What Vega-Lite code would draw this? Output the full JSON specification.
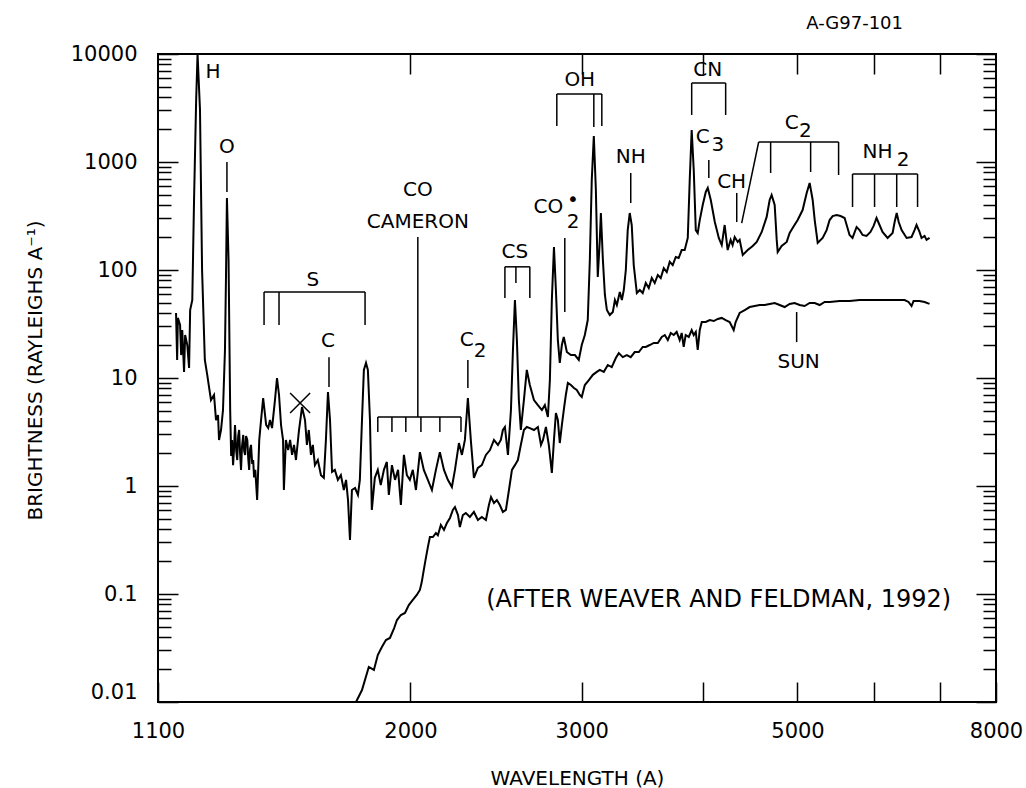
{
  "$schema": "https://vega.github.io/schema/vega-lite/v6.json",
  "autosize": {"type": "none"},
  "padding": {"left": 158, "top": 54, "right": 30, "bottom": 86},
  "width": 838,
  "height": 648,
  "background": "white",
  "title": {"text": "A-G97-101", "anchor": "end", "frame": "group", "dx": -93, "offset": -8, "baseline": "bottom", "fontSize": 18, "fontWeight": "normal", "font": "DejaVu Sans", "color": "black"},
  "config": {
    "font": "DejaVu Sans",
    "view": {"stroke": "black", "strokeWidth": 2},
    "axis": {"grid": false, "domain": false, "labelFont": "DejaVu Sans", "labelFontSize": 21, "labelColor": "black", "tickColor": "black", "tickWidth": 1.5, "titleFont": "DejaVu Sans", "titleFontSize": 20, "titleFontWeight": "normal", "titleColor": "black"}
  },
  "datasets": {
    "comet": [
      {"wl":1148,"b":40.0},{"wl":1151,"b":14.7},{"wl":1153,"b":36.0},{"wl":1159,"b":31.0},{"wl":1162,"b":16.3},{"wl":1165,"b":27.8},{"wl":1170,"b":11.4},{"wl":1173,"b":25.0},{"wl":1179,"b":20.2},{"wl":1184,"b":12.4},{"wl":1187,"b":42.6},{"wl":1193,"b":52.7},{"wl":1198,"b":445},{"wl":1204,"b":3750},{"wl":1208,"b":10000},{"wl":1215,"b":3030},{"wl":1221,"b":100},{"wl":1229,"b":14.7},{"wl":1236,"b":10.7},{"wl":1247,"b":6.25},{"wl":1256,"b":6.96},{"wl":1262,"b":4.08},{"wl":1268,"b":4.54},{"wl":1271,"b":2.67},{"wl":1277,"b":3.30},{"wl":1283,"b":5.05},{"wl":1289,"b":18.2},{"wl":1292,"b":80.8},{"wl":1295,"b":464},{"wl":1300,"b":124},{"wl":1305,"b":5.05},{"wl":1308,"b":1.9},{"wl":1311,"b":2.67},{"wl":1314,"b":1.56},{"wl":1317,"b":2.2},{"wl":1320,"b":3.67},{"wl":1324,"b":2.1},{"wl":1327,"b":1.74},{"wl":1330,"b":2.9},{"wl":1333,"b":3.30},{"wl":1336,"b":2.0},{"wl":1339,"b":1.41},{"wl":1342,"b":2.3},{"wl":1346,"b":2.97},{"wl":1349,"b":2.1},{"wl":1352,"b":1.94},{"wl":1355,"b":2.9},{"wl":1359,"b":2.67},{"wl":1362,"b":1.8},{"wl":1365,"b":1.41},{"wl":1368,"b":2.2},{"wl":1371,"b":2.40},{"wl":1375,"b":1.6},{"wl":1378,"b":1.74},{"wl":1381,"b":1.2},{"wl":1385,"b":1.41},{"wl":1391,"b":0.741},{"wl":1398,"b":2.67},{"wl":1404,"b":4.08},{"wl":1411,"b":6.53},{"wl":1421,"b":3.67},{"wl":1428,"b":3.44},{"wl":1434,"b":4.08},{"wl":1441,"b":3.44},{"wl":1451,"b":6.25},{"wl":1458,"b":10.0},{"wl":1465,"b":6.96},{"wl":1472,"b":3.67},{"wl":1479,"b":2.67},{"wl":1482,"b":0.918},{"wl":1489,"b":2.67},{"wl":1497,"b":2.15},{"wl":1504,"b":2.67},{"wl":1511,"b":1.94},{"wl":1518,"b":2.40},{"wl":1525,"b":1.74},{"wl":1536,"b":3.30},{"wl":1547,"b":5.38},{"wl":1558,"b":4.08},{"wl":1565,"b":2.40},{"wl":1572,"b":3.30},{"wl":1580,"b":1.94},{"wl":1587,"b":2.40},{"wl":1595,"b":1.56},{"wl":1606,"b":1.74},{"wl":1618,"b":1.26},{"wl":1629,"b":1.19},{"wl":1637,"b":2.67},{"wl":1645,"b":7.41},{"wl":1653,"b":4.08},{"wl":1661,"b":1.35},{"wl":1672,"b":1.41},{"wl":1684,"b":1.14},{"wl":1696,"b":1.26},{"wl":1708,"b":0.918},{"wl":1717,"b":1.14},{"wl":1725,"b":0.741},{"wl":1733,"b":0.316},{"wl":1741,"b":0.918},{"wl":1754,"b":0.958},{"wl":1766,"b":0.826},{"wl":1774,"b":1.14},{"wl":1783,"b":4.08},{"wl":1791,"b":11.9},{"wl":1800,"b":13.8},{"wl":1808,"b":11.9},{"wl":1817,"b":4.08},{"wl":1825,"b":0.600},{"wl":1838,"b":1.19},{"wl":1851,"b":1.41},{"wl":1864,"b":1.02},{"wl":1878,"b":1.41},{"wl":1891,"b":1.67},{"wl":1900,"b":0.826},{"wl":1914,"b":1.56},{"wl":1928,"b":1.14},{"wl":1942,"b":1.41},{"wl":1955,"b":0.667},{"wl":1969,"b":1.94},{"wl":1983,"b":1.26},{"wl":1997,"b":1.14},{"wl":2011,"b":1.41},{"wl":2026,"b":0.918},{"wl":2045,"b":2.06},{"wl":2064,"b":1.41},{"wl":2084,"b":1.14},{"wl":2104,"b":0.918},{"wl":2124,"b":1.41},{"wl":2144,"b":2.06},{"wl":2165,"b":1.41},{"wl":2185,"b":1.14},{"wl":2206,"b":0.979},{"wl":2222,"b":1.41},{"wl":2243,"b":2.50},{"wl":2259,"b":1.94},{"wl":2275,"b":2.67},{"wl":2291,"b":6.53},{"wl":2307,"b":2.67},{"wl":2324,"b":1.19},{"wl":2346,"b":1.47},{"wl":2368,"b":1.56},{"wl":2391,"b":1.94},{"wl":2414,"b":2.15},{"wl":2437,"b":2.67},{"wl":2460,"b":2.40},{"wl":2477,"b":2.67},{"wl":2489,"b":3.30},{"wl":2501,"b":3.52},{"wl":2519,"b":1.94},{"wl":2537,"b":5.05},{"wl":2549,"b":18.2},{"wl":2561,"b":52.7},{"wl":2573,"b":22.5},{"wl":2585,"b":6.25},{"wl":2597,"b":3.30},{"wl":2616,"b":6.25},{"wl":2634,"b":11.9},{"wl":2653,"b":8.61},{"wl":2679,"b":6.25},{"wl":2704,"b":5.62},{"wl":2730,"b":5.05},{"wl":2749,"b":5.62},{"wl":2769,"b":4.35},{"wl":2782,"b":9.58},{"wl":2795,"b":52.7},{"wl":2809,"b":163},{"wl":2822,"b":65.3},{"wl":2835,"b":22.5},{"wl":2848,"b":13.8},{"wl":2862,"b":20.2},{"wl":2875,"b":24.0},{"wl":2896,"b":17.4},{"wl":2924,"b":16.3},{"wl":2952,"b":16.3},{"wl":2979,"b":14.7},{"wl":3000,"b":20.2},{"wl":3022,"b":25.0},{"wl":3043,"b":34.4},{"wl":3058,"b":124},{"wl":3072,"b":681},{"wl":3087,"b":1740},{"wl":3102,"b":550},{"wl":3116,"b":86.1},{"wl":3131,"b":190},{"wl":3139,"b":337},{"wl":3154,"b":124},{"wl":3169,"b":58.7},{"wl":3184,"b":42.6},{"wl":3206,"b":38.3},{"wl":3229,"b":40.8},{"wl":3245,"b":52.7},{"wl":3260,"b":47.4},{"wl":3283,"b":62.5},{"wl":3299,"b":52.7},{"wl":3314,"b":65.3},{"wl":3330,"b":100},{"wl":3345,"b":234},{"wl":3361,"b":337},{"wl":3377,"b":261},{"wl":3393,"b":111},{"wl":3418,"b":61.2},{"wl":3442,"b":65.3},{"wl":3466,"b":61.2},{"wl":3491,"b":75.8},{"wl":3516,"b":68.1},{"wl":3541,"b":84.3},{"wl":3566,"b":75.8},{"wl":3592,"b":89.9},{"wl":3617,"b":84.3},{"wl":3643,"b":104},{"wl":3669,"b":95.8},{"wl":3695,"b":119},{"wl":3721,"b":111},{"wl":3748,"b":132},{"wl":3774,"b":129},{"wl":3801,"b":153},{"wl":3828,"b":153},{"wl":3856,"b":198},{"wl":3874,"b":681},{"wl":3892,"b":1980},{"wl":3911,"b":843},{"wl":3930,"b":234},{"wl":3948,"b":220},{"wl":3967,"b":290},{"wl":3995,"b":400},{"wl":4024,"b":528},{"wl":4043,"b":575},{"wl":4072,"b":445},{"wl":4111,"b":278},{"wl":4150,"b":198},{"wl":4179,"b":170},{"wl":4208,"b":261},{"wl":4238,"b":153},{"wl":4268,"b":190},{"wl":4288,"b":170},{"wl":4309,"b":202},{"wl":4340,"b":182},{"wl":4360,"b":190},{"wl":4392,"b":138},{"wl":4444,"b":153},{"wl":4497,"b":167},{"wl":4540,"b":182},{"wl":4594,"b":225},{"wl":4648,"b":310},{"wl":4681,"b":445},{"wl":4703,"b":495},{"wl":4737,"b":400},{"wl":4760,"b":190},{"wl":4771,"b":147},{"wl":4816,"b":167},{"wl":4874,"b":182},{"wl":4908,"b":220},{"wl":4943,"b":245},{"wl":5002,"b":290},{"wl":5061,"b":359},{"wl":5110,"b":517},{"wl":5146,"b":639},{"wl":5183,"b":445},{"wl":5208,"b":290},{"wl":5245,"b":178},{"wl":5307,"b":198},{"wl":5357,"b":234},{"wl":5395,"b":290},{"wl":5434,"b":316},{"wl":5485,"b":323},{"wl":5537,"b":316},{"wl":5590,"b":303},{"wl":5629,"b":245},{"wl":5656,"b":211},{"wl":5696,"b":198},{"wl":5751,"b":250},{"wl":5792,"b":234},{"wl":5833,"b":211},{"wl":5888,"b":207},{"wl":5943,"b":225},{"wl":5986,"b":255},{"wl":6029,"b":303},{"wl":6072,"b":261},{"wl":6115,"b":225},{"wl":6189,"b":198},{"wl":6263,"b":220},{"wl":6293,"b":278},{"wl":6324,"b":337},{"wl":6354,"b":278},{"wl":6398,"b":234},{"wl":6474,"b":198},{"wl":6550,"b":202},{"wl":6597,"b":234},{"wl":6628,"b":261},{"wl":6675,"b":225},{"wl":6707,"b":198},{"wl":6755,"b":207},{"wl":6787,"b":190},{"wl":6835,"b":198}
    ],
    "sun": [
      {"wl":1758,"b":0.0100},{"wl":1783,"b":0.0129},{"wl":1812,"b":0.0211},{"wl":1834,"b":0.0198},{"wl":1851,"b":0.0272},{"wl":1869,"b":0.0323},{"wl":1887,"b":0.0375},{"wl":1905,"b":0.0392},{"wl":1924,"b":0.0484},{"wl":1937,"b":0.0574},{"wl":1955,"b":0.0639},{"wl":1974,"b":0.0667},{"wl":1992,"b":0.079},{"wl":2011,"b":0.088},{"wl":2030,"b":0.098},{"wl":2045,"b":0.109},{"wl":2054,"b":0.129},{"wl":2064,"b":0.167},{"wl":2074,"b":0.215},{"wl":2084,"b":0.272},{"wl":2094,"b":0.337},{"wl":2109,"b":0.337},{"wl":2124,"b":0.367},{"wl":2134,"b":0.35},{"wl":2149,"b":0.436},{"wl":2165,"b":0.392},{"wl":2180,"b":0.454},{"wl":2196,"b":0.506},{"wl":2211,"b":0.600},{"wl":2222,"b":0.639},{"wl":2238,"b":0.538},{"wl":2248,"b":0.417},{"wl":2264,"b":0.538},{"wl":2280,"b":0.562},{"wl":2302,"b":0.517},{"wl":2324,"b":0.575},{"wl":2346,"b":0.484},{"wl":2368,"b":0.517},{"wl":2391,"b":0.484},{"wl":2408,"b":0.667},{"wl":2420,"b":0.791},{"wl":2437,"b":0.696},{"wl":2454,"b":0.741},{"wl":2471,"b":0.667},{"wl":2489,"b":0.575},{"wl":2507,"b":0.600},{"wl":2525,"b":0.918},{"wl":2543,"b":1.41},{"wl":2561,"b":1.56},{"wl":2579,"b":1.74},{"wl":2597,"b":2.40},{"wl":2616,"b":3.30},{"wl":2634,"b":3.52},{"wl":2653,"b":3.44},{"wl":2679,"b":3.30},{"wl":2704,"b":3.52},{"wl":2724,"b":2.40},{"wl":2737,"b":2.67},{"wl":2756,"b":3.52},{"wl":2775,"b":2.40},{"wl":2795,"b":1.32},{"wl":2809,"b":2.67},{"wl":2822,"b":4.74},{"wl":2835,"b":4.08},{"wl":2848,"b":2.50},{"wl":2862,"b":3.67},{"wl":2875,"b":5.05},{"wl":2889,"b":6.96},{"wl":2903,"b":8.99},{"wl":2924,"b":8.61},{"wl":2945,"b":8.08},{"wl":2965,"b":7.74},{"wl":2986,"b":6.96},{"wl":3000,"b":6.67},{"wl":3022,"b":8.61},{"wl":3051,"b":9.58},{"wl":3080,"b":10.7},{"wl":3109,"b":11.4},{"wl":3131,"b":11.9},{"wl":3161,"b":11.4},{"wl":3191,"b":13.2},{"wl":3221,"b":12.6},{"wl":3252,"b":15.3},{"wl":3275,"b":17.0},{"wl":3306,"b":15.6},{"wl":3338,"b":16.3},{"wl":3369,"b":15.6},{"wl":3401,"b":17.4},{"wl":3434,"b":17.4},{"wl":3466,"b":19.4},{"wl":3491,"b":19.4},{"wl":3524,"b":20.2},{"wl":3558,"b":21.1},{"wl":3592,"b":21.1},{"wl":3626,"b":24.0},{"wl":3652,"b":25.0},{"wl":3678,"b":22.5},{"wl":3704,"b":26.1},{"wl":3730,"b":25.0},{"wl":3756,"b":26.7},{"wl":3783,"b":22.5},{"wl":3801,"b":26.1},{"wl":3819,"b":19.4},{"wl":3837,"b":25.0},{"wl":3865,"b":24.0},{"wl":3892,"b":27.8},{"wl":3911,"b":25.0},{"wl":3930,"b":26.7},{"wl":3948,"b":18.2},{"wl":3967,"b":27.8},{"wl":3986,"b":33.0},{"wl":4024,"b":33.0},{"wl":4062,"b":34.4},{"wl":4101,"b":33.7},{"wl":4140,"b":35.2},{"wl":4179,"b":36.0},{"wl":4218,"b":34.4},{"wl":4258,"b":33.0},{"wl":4299,"b":27.8},{"wl":4319,"b":33.0},{"wl":4360,"b":40.0},{"wl":4413,"b":42.6},{"wl":4465,"b":45.4},{"wl":4518,"b":46.4},{"wl":4572,"b":47.4},{"wl":4626,"b":47.4},{"wl":4681,"b":48.5},{"wl":4737,"b":49.5},{"wl":4793,"b":47.4},{"wl":4850,"b":45.4},{"wl":4908,"b":48.5},{"wl":4966,"b":49.5},{"wl":5025,"b":47.4},{"wl":5085,"b":46.4},{"wl":5146,"b":49.5},{"wl":5208,"b":49.5},{"wl":5269,"b":47.4},{"wl":5332,"b":50.6},{"wl":5395,"b":50.6},{"wl":5524,"b":51.6},{"wl":5656,"b":51.6},{"wl":5792,"b":52.7},{"wl":5930,"b":52.7},{"wl":6072,"b":52.7},{"wl":6218,"b":52.7},{"wl":6367,"b":52.7},{"wl":6443,"b":52.7},{"wl":6504,"b":50.6},{"wl":6550,"b":46.4},{"wl":6581,"b":51.6},{"wl":6675,"b":51.6},{"wl":6755,"b":50.6},{"wl":6835,"b":48.5}
    ],
    "rules": [
      {"wl":1295,"b":1000,"wl2":1295,"b2":528},
      {"wl":1414,"b":62.5,"wl2":1796,"b2":62.5},
      {"wl":1414,"b":62.5,"wl2":1414,"b2":31},
      {"wl":1465,"b":62.5,"wl2":1465,"b2":31},
      {"wl":1796,"b":62.5,"wl2":1796,"b2":31},
      {"wl":1649,"b":15.6,"wl2":1649,"b2":8.25},
      {"wl":2035,"b":202,"wl2":2035,"b2":4.35},
      {"wl":1851,"b":4.35,"wl2":2254,"b2":4.35},
      {"wl":1851,"b":4.35,"wl2":1851,"b2":3.16},
      {"wl":1914,"b":4.35,"wl2":1914,"b2":3.16},
      {"wl":1978,"b":4.35,"wl2":1978,"b2":3.16},
      {"wl":2050,"b":4.35,"wl2":2050,"b2":3.16},
      {"wl":2144,"b":4.35,"wl2":2144,"b2":3.16},
      {"wl":2254,"b":4.35,"wl2":2254,"b2":3.16},
      {"wl":2291,"b":14.7,"wl2":2291,"b2":8.08},
      {"wl":2501,"b":107,"wl2":2653,"b2":107},
      {"wl":2501,"b":107,"wl2":2501,"b2":55.1},
      {"wl":2653,"b":107,"wl2":2653,"b2":55.1},
      {"wl":2567,"b":107,"wl2":2567,"b2":75.8},
      {"wl":2882,"b":198,"wl2":2882,"b2":40.8},
      {"wl":2828,"b":4264,"wl2":3146,"b2":4264},
      {"wl":2828,"b":4264,"wl2":2828,"b2":2154},
      {"wl":3146,"b":4264,"wl2":3146,"b2":2154},
      {"wl":3087,"b":4264,"wl2":3087,"b2":2109},
      {"wl":3369,"b":791,"wl2":3369,"b2":417},
      {"wl":3892,"b":5390,"wl2":4218,"b2":5390},
      {"wl":3892,"b":5390,"wl2":3892,"b2":2725},
      {"wl":4218,"b":5390,"wl2":4218,"b2":2725},
      {"wl":4053,"b":1043,"wl2":4053,"b2":711},
      {"wl":4330,"b":517,"wl2":4330,"b2":278},
      {"wl":4381,"b":272,"wl2":4561,"b2":1531},
      {"wl":4561,"b":1531,"wl2":5511,"b2":1531},
      {"wl":4692,"b":1531,"wl2":4692,"b2":791},
      {"wl":5158,"b":1531,"wl2":5158,"b2":808},
      {"wl":5511,"b":1531,"wl2":5511,"b2":758},
      {"wl":5696,"b":774,"wl2":6644,"b2":774},
      {"wl":5696,"b":774,"wl2":5696,"b2":383},
      {"wl":6001,"b":774,"wl2":6001,"b2":383},
      {"wl":6324,"b":774,"wl2":6324,"b2":383},
      {"wl":6644,"b":774,"wl2":6644,"b2":383},
      {"wl":4990,"b":40.8,"wl2":4990,"b2":21.5}
    ],
    "labels": [
      {"wl":1253,"b":6810,"t":"H"},
      {"wl":1295,"b":1377,"t":"O"},
      {"wl":1587,"b":80.8,"t":"S"},
      {"wl":1645,"b":22.0,"t":"C"},
      {"wl":2035,"b":550,"t":"CO"},
      {"wl":2035,"b":278,"t":"CAMERON"},
      {"wl":2285,"b":22.5,"t":"C"},
      {"wl":2358,"b":17.8,"t":"2"},
      {"wl":2561,"b":147,"t":"CS"},
      {"wl":2772,"b":383,"t":"CO"},
      {"wl":2940,"b":278,"t":"2"},
      {"wl":2938,"b":445,"t":"•"},
      {"wl":2986,"b":5742,"t":"OH"},
      {"wl":3369,"b":1113,"t":"NH"},
      {"wl":4043,"b":7110,"t":"CN"},
      {"wl":3995,"b":1704,"t":"C"},
      {"wl":4140,"b":1437,"t":"3"},
      {"wl":4278,"b":653,"t":"CH"},
      {"wl":4931,"b":2296,"t":"C"},
      {"wl":5095,"b":1937,"t":"2"},
      {"wl":6043,"b":1238,"t":"NH"},
      {"wl":6420,"b":1045,"t":"2"},
      {"wl":5013,"b":14.1,"t":"SUN"}
    ],
    "note": [{"wl":4149,"b":0.088,"t":"(AFTER WEAVER AND FELDMAN, 1992)"}],
    "marker": [{"wl":1540,"b":5.87}]
  },
  "resolve": {"axis": {"x": "independent", "y": "independent"}},
  "layer": [
    {
      "data": {"name": "comet"},
      "mark": {"type": "line", "color": "black", "strokeWidth": 2, "clip": true, "interpolate": "linear"},
      "encoding": {
        "x": {"field": "wl", "type": "quantitative", "scale": {"type": "log", "domain": [1100, 8000], "nice": false},
          "axis": {"orient": "bottom", "values": [1100, 2000, 3000, 4000, 5000, 6000, 7000, 8000], "format": "d",
            "labelExpr": "indexof([1100, 2000, 3000, 5000, 8000], datum.value) >= 0 ? datum.label : ''",
            "tickSize": -20, "labelPadding": 38, "labelFlush": false, "title": "WAVELENGTH (A)", "titleY": 76, "titleBaseline": "middle"}},
        "y": {"field": "b", "type": "quantitative", "scale": {"type": "log", "domain": [0.01, 10000], "nice": false},
          "axis": {"orient": "left", "values": [0.01, 0.1, 1, 10, 100, 1000, 10000], "format": "~g", "tickSize": -20, "labelPadding": 41,
            "labelOffset": {"condition": {"test": "datum.value < 0.02", "value": -10}, "value": 0},
            "title": "BRIGHTNESS (RAYLEIGHS A⁻¹)", "titleX": -123, "titleY": 316, "titleBaseline": "middle", "titleAlign": "center", "titleAngle": -90}}
      }
    },
    {
      "data": {"name": "sun"},
      "mark": {"type": "line", "color": "black", "strokeWidth": 2, "clip": true},
      "encoding": {
        "x": {"field": "wl", "type": "quantitative", "scale": {"type": "log", "domain": [1100, 8000], "nice": false},
          "axis": {"orient": "top", "values": [2000, 3000, 4000, 5000, 6000, 7000], "tickSize": -20, "labels": false, "title": null}},
        "y": {"field": "b", "type": "quantitative", "scale": {"type": "log", "domain": [0.01, 10000], "nice": false},
          "axis": {"orient": "left", "values": [0.02,0.03,0.04,0.05,0.06,0.07,0.08,0.09,0.2,0.3,0.4,0.5,0.6,0.7,0.8,0.9,2,3,4,5,6,7,8,9,20,30,40,50,60,70,80,90,200,300,400,500,600,700,800,900,2000,3000,4000,5000,6000,7000,8000,9000], "tickSize": -13, "labels": false, "title": null}}
      }
    },
    {
      "data": {"name": "rules"},
      "mark": {"type": "rule", "color": "black", "strokeWidth": 1.5},
      "encoding": {
        "x": {"field": "wl", "type": "quantitative", "scale": {"type": "log", "domain": [1100, 8000], "nice": false}, "axis": null},
        "x2": {"field": "wl2"},
        "y": {"field": "b", "type": "quantitative", "scale": {"type": "log", "domain": [0.01, 10000], "nice": false},
          "axis": {"orient": "right", "values": [0.01, 0.1, 1, 10, 100, 1000, 10000], "tickSize": -20, "labels": false, "title": null}},
        "y2": {"field": "b2"}
      }
    },
    {
      "data": {"name": "labels"},
      "mark": {"type": "text", "font": "DejaVu Sans", "fontSize": 20, "align": "center", "baseline": "middle", "color": "black"},
      "encoding": {
        "x": {"field": "wl", "type": "quantitative", "scale": {"type": "log", "domain": [1100, 8000], "nice": false}, "axis": null},
        "y": {"field": "b", "type": "quantitative", "scale": {"type": "log", "domain": [0.01, 10000], "nice": false},
          "axis": {"orient": "right", "values": [0.02,0.03,0.04,0.05,0.06,0.07,0.08,0.09,0.2,0.3,0.4,0.5,0.6,0.7,0.8,0.9,2,3,4,5,6,7,8,9,20,30,40,50,60,70,80,90,200,300,400,500,600,700,800,900,2000,3000,4000,5000,6000,7000,8000,9000], "tickSize": -13, "labels": false, "title": null}},
        "text": {"field": "t", "type": "nominal"}
      }
    },
    {
      "data": {"name": "note"},
      "mark": {"type": "text", "font": "DejaVu Sans", "fontSize": 24, "align": "center", "baseline": "middle", "color": "black"},
      "encoding": {
        "x": {"field": "wl", "type": "quantitative", "scale": {"type": "log", "domain": [1100, 8000], "nice": false}, "axis": null},
        "y": {"field": "b", "type": "quantitative", "scale": {"type": "log", "domain": [0.01, 10000], "nice": false}, "axis": null},
        "text": {"field": "t", "type": "nominal"}
      }
    },
    {
      "data": {"name": "marker"},
      "mark": {"type": "point", "shape": "M-1,-1L1,1M-1,1L1,-1", "size": 400, "filled": false, "stroke": "black", "strokeWidth": 1.5, "opacity": 1},
      "encoding": {
        "x": {"field": "wl", "type": "quantitative", "scale": {"type": "log", "domain": [1100, 8000], "nice": false}, "axis": null},
        "y": {"field": "b", "type": "quantitative", "scale": {"type": "log", "domain": [0.01, 10000], "nice": false}, "axis": null}
      }
    }
  ]
}
